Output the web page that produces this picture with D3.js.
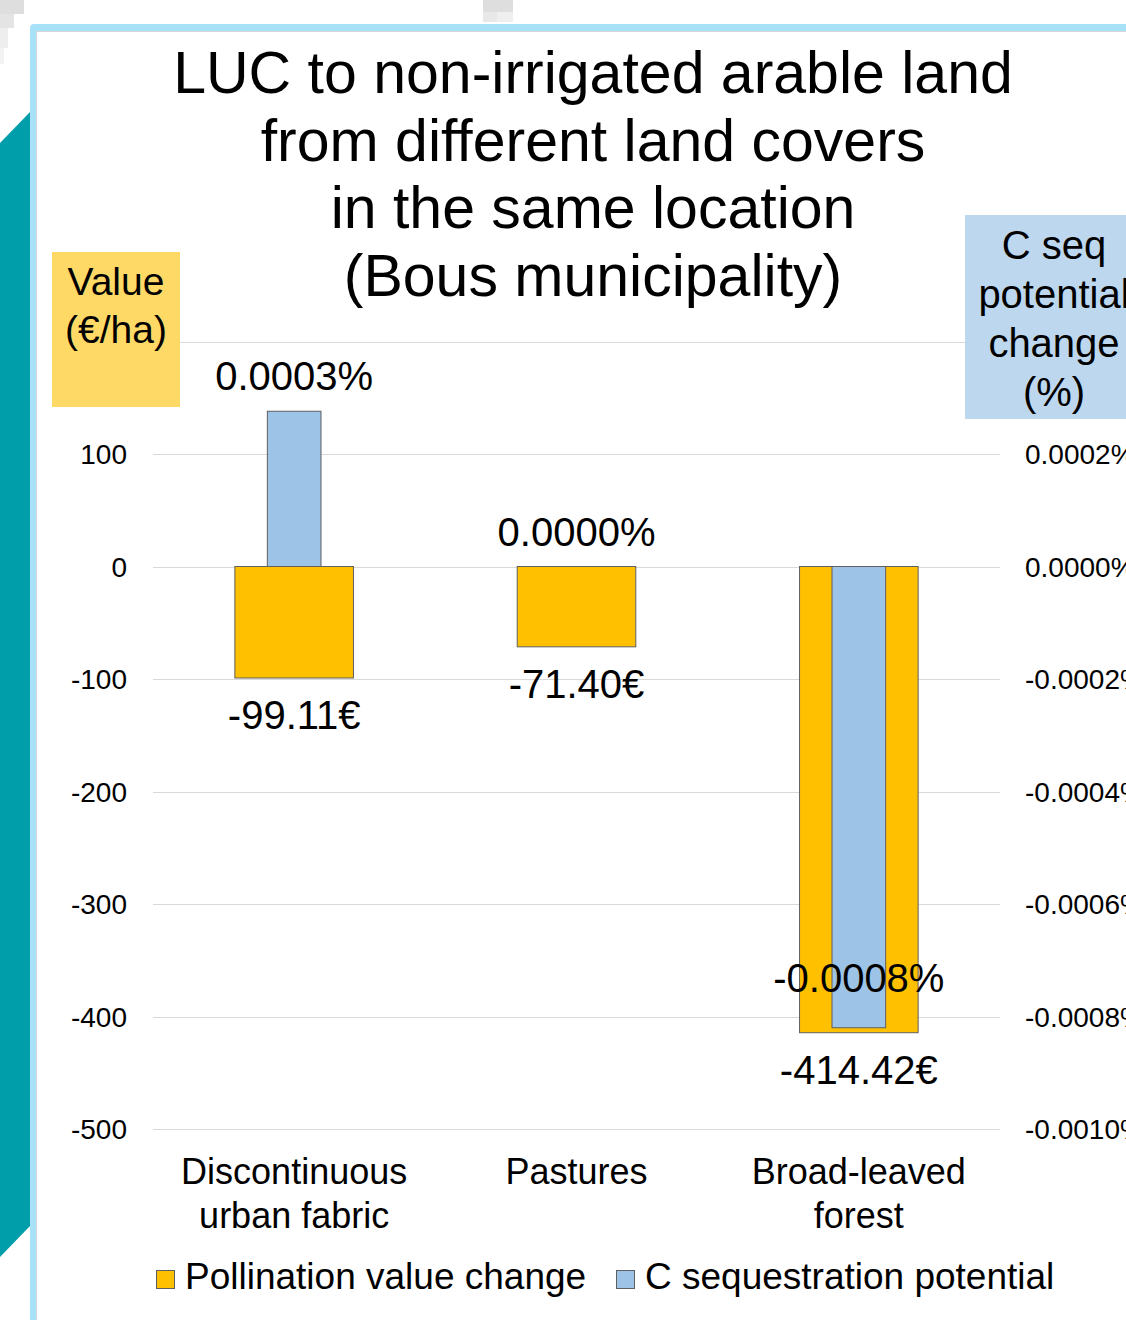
<!DOCTYPE html>
<html>
<head>
<meta charset="utf-8">
<script src="https://cdn.jsdelivr.net/npm/d3@7"></script>
<style>
  html, body { margin: 0; padding: 0; background: #fff; }
  svg { display: block; font-family: "Liberation Sans", Arial, sans-serif; }
</style>
</head>
<body>
<svg id="chart" width="1126" height="1320"></svg>
<script>
// ---- data ----
const categories = [["Discontinuous", "urban fabric"], ["Pastures"], ["Broad-leaved", "forest"]];
const categoryKeys = ["Discontinuous urban fabric", "Pastures", "Broad-leaved forest"];
const pollinationValues = [-99.11, -71.40, -414.42];          // €/ha
const cseqValues = [0.000276, 0.0000, -0.00082];               // %
const gridTicks = [-500, -400, -300, -200, -100, 0, 100, 200];
const leftTicks = [-500, -400, -300, -200, -100, 0, 100];       // 200 label hidden behind axis title box
const rightTicks = [-0.0010, -0.0008, -0.0006, -0.0004, -0.0002, 0.0000, 0.0002]; // 0.0004% hidden behind box
const titleLines = ["LUC to non-irrigated arable land", "from different land covers", "in the same location", "(Bous municipality)"];
const leftAxisTitle = ["Value", "(€/ha)"];
const rightAxisTitle = ["C seq", "potential", "change", "(%)"];
const seriesNames = ["Pollination value change", "C sequestration potential"];

// ---- styles ----
const POLL = "#FFC000", CSEQ = "#9DC3E6", BAR_STROKE = "#5f5f5f";
const GRID = "#D9D9D9";
const FONT = '"Liberation Sans", Arial, sans-serif';

const svg = d3.select("#chart");

// background decorations
const deco = svg.append("g");
[[0,0,24,14,"#dedede"],[0,14,14,14,"#e4e4e4"],[0,28,8,20,"#eeeeee"],[0,48,4,16,"#f2f2f2"],
 [483,0,30,12,"#dedede"],[483,12,14,10,"#e8e8e8"],[497,12,16,10,"#efefef"]]
 .forEach(r => deco.append("rect").attr("x", r[0]).attr("y", r[1]).attr("width", r[2]).attr("height", r[3]).attr("fill", r[4]));
deco.append("path").attr("d", "M0,143 L30,112 L30,1226 L0,1257 Z").attr("fill", "#009EAA");
// frame
deco.append("path").attr("d", "M30,1320 L30,28 Q30,24 34,24 L1126,24 L1126,31 L37,31 L37,1320 Z").attr("fill", "#A8E2F8");
deco.append("line").attr("x1", 36.5).attr("x2", 36.5).attr("y1", 31).attr("y2", 1320).attr("stroke", "#d6d6d6").attr("stroke-width", 1);
deco.append("line").attr("x1", 37).attr("x2", 1126).attr("y1", 31.5).attr("y2", 31.5).attr("stroke", "#d6d6d6").attr("stroke-width", 1);

// ---- scales ----
const x = d3.scaleBand().domain(categoryKeys).range([153, 1000]).padding(0);
const yL = d3.scaleLinear().domain([-500, 100]).range([1129, 454]);
const yR = d3.scaleLinear().domain([-0.0010, 0.0002]).range([1129, 454]);

const locale = d3.formatLocale({decimal: ".", thousands: ",", grouping: [3], currency: ["", "€"], minus: "-"});
const fInt = locale.format("d");
const fPct = v => locale.format(".4f")(v) + "%";
const fEur = v => locale.format(".2f")(v) + "€";

// gridlines
svg.append("g").selectAll("line").data(gridTicks).join("line")
  .attr("x1", 153).attr("x2", 1000)
  .attr("y1", d => Math.round(yL(d)) + 0.5).attr("y2", d => Math.round(yL(d)) + 0.5)
  .attr("stroke", GRID).attr("stroke-width", 1.2);

// left axis
const axL = svg.append("g").attr("transform", "translate(127,0)")
  .call(d3.axisLeft(yL).tickValues(leftTicks).tickFormat(fInt).tickSize(0).tickPadding(0));
axL.select(".domain").remove();
axL.selectAll("text").attr("font-size", 28).attr("font-family", FONT).attr("fill", "#000").attr("dy", "0.35em");

// right axis
const axR = svg.append("g").attr("transform", "translate(1025,0)")
  .call(d3.axisRight(yR).tickValues(rightTicks).tickFormat(fPct).tickSize(0).tickPadding(0));
axR.select(".domain").remove();
axR.selectAll("text").attr("font-size", 28).attr("font-family", FONT).attr("fill", "#000").attr("dy", "0.35em");

// bars
const bw = x.bandwidth();
const pollW = bw * 0.42, cseqW = bw * 0.19;
svg.append("g").selectAll("rect").data(pollinationValues).join("rect")
  .attr("x", (d, i) => x(categoryKeys[i]) + (bw - pollW) / 2)
  .attr("width", pollW)
  .attr("y", d => yL(Math.max(0, d)))
  .attr("height", d => Math.abs(yL(d) - yL(0)))
  .attr("fill", POLL).attr("stroke", BAR_STROKE).attr("stroke-width", 1);
svg.append("g").selectAll("rect").data(cseqValues).join("rect")
  .attr("x", (d, i) => x(categoryKeys[i]) + (bw - cseqW) / 2)
  .attr("width", cseqW)
  .attr("y", d => yR(Math.max(0, d)))
  .attr("height", d => Math.abs(yR(d) - yR(0)))
  .attr("fill", CSEQ).attr("stroke", BAR_STROKE).attr("stroke-width", 1);

// data labels
svg.append("g").selectAll("text").data(pollinationValues).join("text")
  .attr("x", (d, i) => x(categoryKeys[i]) + bw / 2)
  .attr("y", d => yL(d) + 51)
  .attr("text-anchor", "middle").attr("font-size", 40).attr("fill", "#000")
  .text(d => fEur(d));
svg.append("g").selectAll("text").data(cseqValues).join("text")
  .attr("x", (d, i) => x(categoryKeys[i]) + bw / 2)
  .attr("y", d => d >= 0 ? yR(d) - 21 : yR(d) - 36)
  .attr("text-anchor", "middle").attr("font-size", 40).attr("fill", "#000")
  .text(d => fPct(d));

// category labels
const cat = svg.append("g").selectAll("text").data(categories).join("text")
  .attr("x", (d, i) => x(categoryKeys[i]) + bw / 2)
  .attr("y", 1184)
  .attr("text-anchor", "middle").attr("font-size", 36).attr("fill", "#000");
cat.selectAll("tspan").data(d => d).join("tspan")
  .attr("x", function() { return d3.select(this.parentNode).attr("x"); })
  .attr("dy", (d, i) => i === 0 ? 0 : 44)
  .text(d => d);

// title
svg.append("g").selectAll("text").data(titleLines).join("text")
  .attr("x", 593).attr("y", (d, i) => 93 + i * 67.7)
  .attr("text-anchor", "middle").attr("font-size", 59).attr("fill", "#000")
  .text(d => d);

// axis title boxes
svg.append("rect").attr("x", 52).attr("y", 252).attr("width", 128).attr("height", 155).attr("fill", "#FFD966");
svg.append("g").selectAll("text").data(leftAxisTitle).join("text")
  .attr("x", 116).attr("y", (d, i) => 295 + i * 48)
  .attr("text-anchor", "middle").attr("font-size", 39).attr("fill", "#000")
  .text(d => d);
svg.append("rect").attr("x", 965).attr("y", 215).attr("width", 170).attr("height", 204).attr("fill", "#BDD7EE");
svg.append("g").selectAll("text").data(rightAxisTitle).join("text")
  .attr("x", 1054).attr("y", (d, i) => 259 + i * 49)
  .attr("text-anchor", "middle").attr("font-size", 40).attr("fill", "#000")
  .text(d => d);

// legend
const legX = [156, 616];
const leg = svg.append("g").selectAll("g").data(seriesNames).join("g")
  .attr("transform", (d, i) => `translate(${legX[i]},1270)`);
leg.append("rect").attr("x", 0.5).attr("y", 0.5).attr("width", 18).attr("height", 18)
  .attr("fill", (d, i) => i === 0 ? POLL : CSEQ).attr("stroke", BAR_STROKE).attr("stroke-width", 1);
leg.append("text").attr("x", 29).attr("y", 19).attr("font-size", 37).attr("fill", "#000").text(d => d);
</script>
</body>
</html>
